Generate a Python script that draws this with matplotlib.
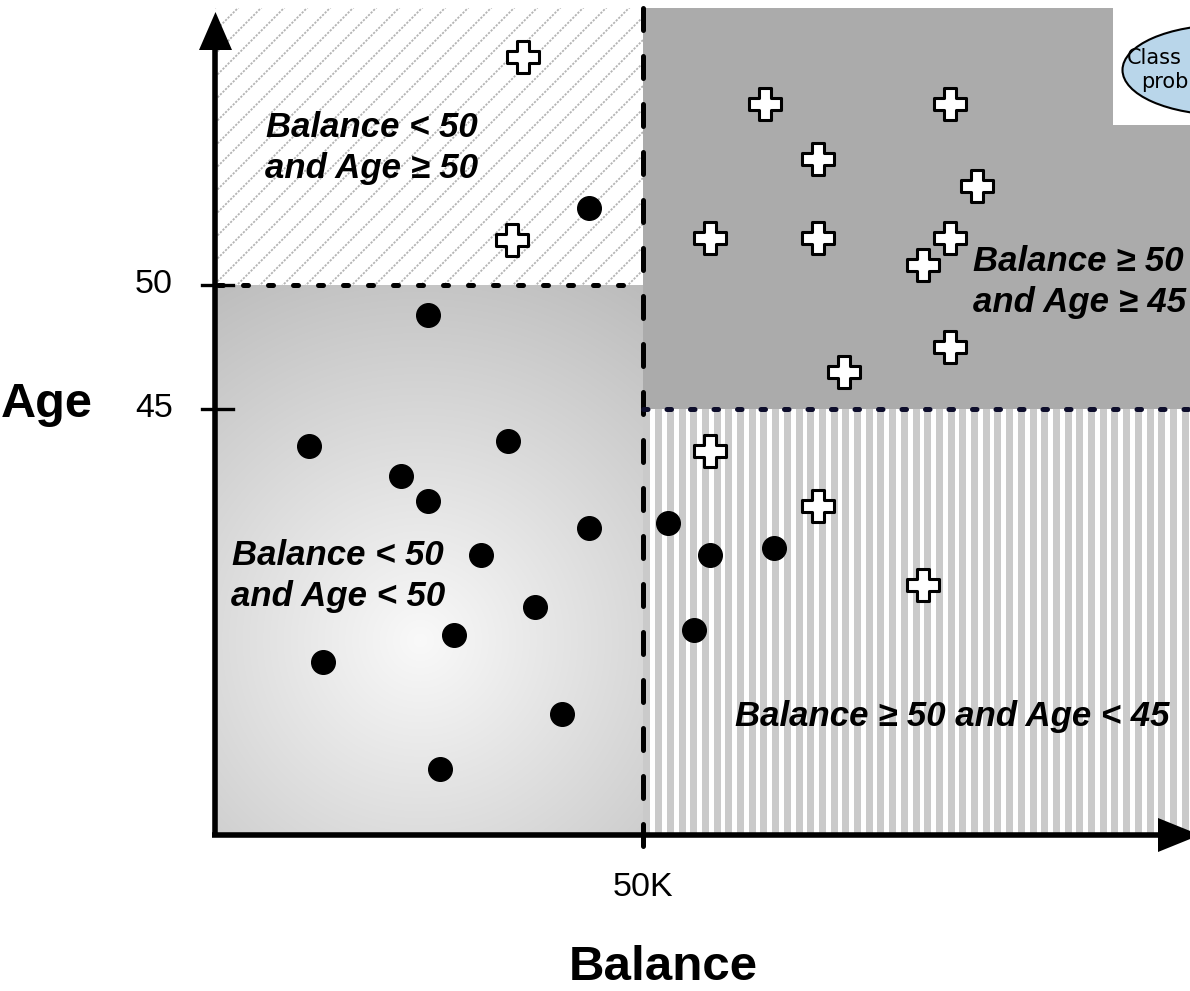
"""Decision-tree partition of the Balance/Age instance space (class-probability
regions), redrawn with matplotlib."""
import matplotlib

matplotlib.use("Agg")
import matplotlib.pyplot as plt
import numpy as np
from matplotlib.path import Path
from matplotlib.patches import Rectangle, Polygon, Ellipse

# --- data: balance in $K, age in years -------------------------------------
no_balance = [43.7, 24.9, 11.0, 34.2, 21.7, 24.9, 43.7, 31.1, 37.4, 27.9, 12.6,
              40.5, 26.3, 52.9, 57.8, 65.3, 56.0]
no_age = [53.1, 48.8, 43.5, 43.7, 42.3, 41.3, 40.2, 39.1, 37.0, 35.9, 34.8,
          32.7, 30.5, 40.4, 39.1, 39.4, 36.1]
yes_balance = [36.0, 64.3, 85.9, 70.4, 89.0, 34.7, 57.8, 70.4, 85.9, 82.7,
               85.9, 73.5, 57.8, 70.4, 82.7]
yes_age = [59.2, 57.3, 57.3, 55.1, 54.0, 51.8, 51.9, 51.9, 51.9, 50.8, 47.5,
           46.5, 43.3, 41.1, 37.9]

balance_split = 50
age_split_left = 50
age_split_right = 45
age_ticks = [50, 45]
age_tick_labels = ["50", "45"]
balance_tick_label = "50K"
region_labels = ["Balance < 50\nand Age \u2265 50", "Balance < 50\nand Age < 50",
                 "Balance \u2265 50\nand Age \u2265 45", "Balance \u2265 50 and Age < 45"]

# --- layout: pixel <-> data mapping ----------------------------------------
W, H = 1190, 991
SX, SY = 8.56, 24.8          # px per $K, px per year
X0, Y45 = 215, 409           # pixel of balance=0, pixel row of age=45


def bx(px):
    return (px - X0) / SX


def ay(py):
    return 45 + (Y45 - py) / SY


plt.rcParams["font.family"] = ["Liberation Sans", "DejaVu Sans"]
fig = plt.figure(figsize=(W / 100, H / 100), dpi=100)
ax = fig.add_axes([0, 0, 1, 1])
ax.axis("off")

top, right, bottom = ay(8), bx(W), ay(835)

# top-left: white with diagonal dotted hatch
tl = Rectangle((0, age_split_left), balance_split, top - age_split_left,
               facecolor="white", edgecolor="none", zorder=1)
ax.add_patch(tl)
span = balance_split * SX
s = np.array([0, span])
for c in np.arange(-300, span, 23):
    ln, = ax.plot(s / SX, age_split_left + (s - c) / SY, color="#b4b4b4", lw=1.3,
                  ls=(0, (1.2, 0.8)), zorder=2)
    ln.set_clip_path(tl)

# top-right: flat gray
ax.add_patch(Rectangle((balance_split, age_split_right), right - balance_split,
                       top - age_split_right, facecolor="#ababab",
                       edgecolor="none", zorder=1))

# bottom-left: radial gray gradient
gh, gw = 550, 428
yy, xx = np.mgrid[0:gh, 0:gw]
d = np.hypot(xx - 205, yy - 355)
v = np.clip(249 - 60 * d / 410, 180, 250) / 255.0
ax.imshow(np.dstack([v, v, v]), extent=(0, balance_split, bottom, age_split_left),
          aspect="auto", interpolation="bilinear", zorder=1)

# bottom-right: vertical stripes
sw = int(round((right - balance_split) * SX))
cols = np.arange(sw)
stripe = np.where((cols % 11.7) < 7, 202, 255) / 255.0
img = np.tile(stripe, (2, 1))
ax.imshow(np.dstack([img, img, img]), extent=(balance_split, right, bottom, age_split_right),
          aspect="auto", interpolation="nearest", zorder=1)

# class-probability callout (runs off the right edge, as in the source)
narrow = ["Liberation Sans Narrow", "DejaVu Sans"]
ax.add_patch(Rectangle((bx(1113), ay(125)), right - bx(1113), top - ay(125),
                       facecolor="white", edgecolor="none", zorder=3))
ax.add_patch(Ellipse((bx(1225), ay(70)), 205 / SX, 90 / SY, facecolor="#b9d6ea",
                     edgecolor="black", lw=1.5, zorder=4))
ax.text(bx(1127), ay(58), "Class", fontsize=15, family=narrow,
        ha="left", va="center", zorder=5)
ax.text(bx(1141), ay(82), "prob", fontsize=15, family=narrow,
        ha="left", va="center", zorder=5)

# split lines
ax.plot([balance_split, balance_split], [top, ay(865)], color="black", lw=3.6,
        dashes=(4.4, 5.2), dash_capstyle="round", zorder=6)
ax.plot([bx(218), balance_split], [age_split_left] * 2, color="black", lw=3.6,
        dashes=(1.0, 4.0), dash_capstyle="round", zorder=6)
ax.plot([balance_split, right], [age_split_right] * 2, color="#0d0d2b", lw=3.6,
        dashes=(0.9, 3.8), dash_capstyle="round", zorder=6)

# axes with arrow heads
ax.plot([0, 0], [bottom, ay(48)], color="black", lw=4, solid_capstyle="butt", zorder=7)
ax.plot([bx(212), bx(1160)], [bottom, bottom], color="black", lw=4,
        solid_capstyle="butt", zorder=7)
ax.add_patch(Polygon([(bx(199), ay(50)), (bx(232), ay(50)), (bx(215.5), ay(12))],
                     closed=True, facecolor="black", edgecolor="none", zorder=7))
ax.add_patch(Polygon([(bx(1158), ay(818)), (bx(1158), ay(852)), (bx(1200), ay(835))],
                     closed=True, facecolor="black", edgecolor="none", zorder=7))
for t in age_ticks:
    ax.plot([bx(202), bx(233)], [t, t], color="black", lw=2.4, zorder=7)

# tick labels and axis titles
for t, lab in zip(age_ticks, age_tick_labels):
    ax.text(bx(173), t, lab, fontsize=24.5, ha="right", va="center")
ax.text(balance_split, ay(888), balance_tick_label, fontsize=24.5, ha="center", va="center")
ax.text(bx(47), ay(405), "Age", fontsize=35, fontweight="bold", ha="center", va="center")
ax.text(bx(663), ay(968), "Balance", fontsize=35.5, fontweight="bold", ha="center", va="center")

# region labels
lbl = dict(fontsize=25, fontweight="bold", style="italic", zorder=8, linespacing=1.3)
ax.text(bx(372), ay(148), region_labels[0], ha="center", va="center", **lbl)
ax.text(bx(338), ay(576), region_labels[1], ha="center", va="center", **lbl)
ax.text(bx(973), ay(282), region_labels[2], ha="left", va="center", **lbl)
ax.text(bx(735), ay(717), region_labels[3], ha="left", va="center", **lbl)

# instances
a = 0.18
plus = Path([(-a, -0.5), (a, -0.5), (a, -a), (0.5, -a), (0.5, a), (a, a), (a, 0.5),
             (-a, 0.5), (-a, a), (-0.5, a), (-0.5, -a), (-a, -a), (-a, -0.5)],
            closed=True)
ax.plot(no_balance, no_age, "o", color="black", markersize=17, zorder=9)
ax.plot(yes_balance, yes_age, linestyle="none", marker=plus, markersize=23,
        markerfacecolor="white", markeredgecolor="black", markeredgewidth=2.2, zorder=9)

ax.set_xlim(bx(0), bx(W))
ax.set_ylim(ay(H), ay(0))
fig.savefig("out.png", dpi=100)
